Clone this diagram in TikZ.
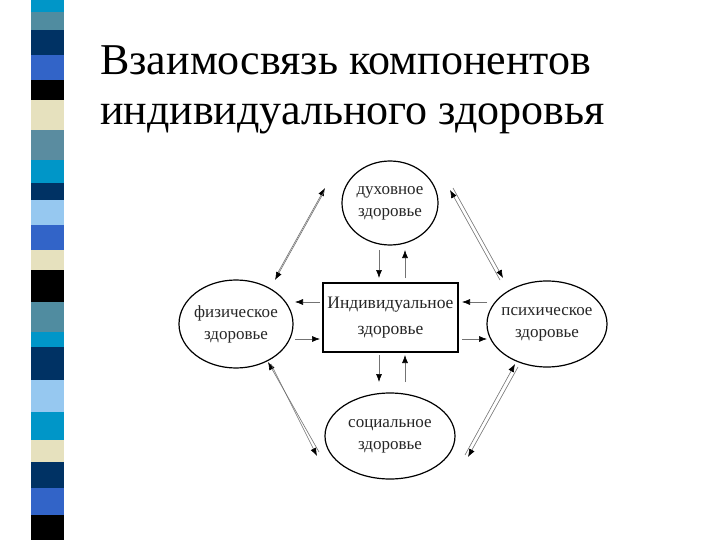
\documentclass[tikz,border=0pt]{standalone}
\usepackage{fontspec}
\setmainfont{Liberation Serif}
\usetikzlibrary{arrows.meta}
\begin{document}
\begin{tikzpicture}[x=1pt,y=-1pt,
  lbl/.style={font=\fontsize{17}{22}\selectfont,align=center,text=black!85},
  arr/.style={draw=black!55,line width=0.6pt,-{Latex[length=8pt,width=6pt,color=black]}}]
\useasboundingbox (0,0) rectangle (720,540);
\fill[white] (0,0) rectangle (720,540);
% stripes
\foreach \a/\b/\c in {0/12/{0,150,200},12/30/{80,140,160},30/55/{0,50,100},55/80/{50,100,200},80/100/{0,0,0},100/130/{230,225,190},130/160/{90,140,160},160/183/{0,150,200},183/200/{0,50,100},200/225/{150,200,240},225/250/{50,100,200},250/270/{230,225,190},270/302/{0,0,0},302/332/{80,140,160},332/347/{0,150,200},347/380/{0,50,100},380/412/{150,200,240},412/440/{0,150,200},440/462/{230,225,190},462/488/{0,50,100},488/515/{50,100,200},515/540/{0,0,0}}{
  \definecolor{sc}{RGB}{\c}
  \fill[sc] (31,\a) rectangle (64,\b);
}
\node[anchor=base west,font=\fontsize{44}{50}\selectfont,inner sep=0] (t1) at (100,75) {Взаимосвязь компонентов};
\node[anchor=base west,font=\fontsize{44}{50}\selectfont,inner sep=0] (t2) at (100,125) {индивидуального здоровья};
% nodes
\draw[line width=1.2pt] (390,203) ellipse (48 and 42);
\node[lbl] (top) at (390,203) {духовное\\здоровье};
\draw[line width=1.2pt] (236,324) ellipse (57 and 44);
\node[lbl] (left) at (236,324) {физическое\\здоровье};
\draw[line width=1.2pt] (547,324) ellipse (60 and 43);
\node[lbl] (right) at (547,324) {психическое\\здоровье};
\draw[line width=1.2pt] (390,436) ellipse (65 and 43);
\node[lbl] (bot) at (390,436) {социальное\\здоровье};
\node[draw,line width=1.2pt,minimum width=135,minimum height=69,inner sep=1pt,lbl,font=\fontsize{17.5}{26}\selectfont] (c) at (390.5,317.5) {Индивидуальное\\здоровье};
% straight arrows
\draw[arr] (379,250) -- (379,278);
\draw[arr] (405,278) -- (405,250);
\draw[arr] (320,302) -- (295,302);
\draw[arr] (295,339) -- (320,339);
\draw[arr] (487,302) -- (462,302);
\draw[arr] (462,339) -- (487,339);
\draw[arr] (379,355) -- (379,382);
\draw[arr] (405,382) -- (405,355);
% diagonal pairs
\draw[arr] (276,276) -- (325,188);
\draw[arr] (324,192) -- (275,280);
\draw[arr] (500,280) -- (450,190);
\draw[arr] (453,188) -- (503,278);
\draw[arr] (319,452) -- (268,362);
\draw[arr] (271,364) -- (317,456);
\draw[arr] (465,455) -- (515,364);
\draw[arr] (518,367) -- (468,457);
\end{tikzpicture}
\end{document}
